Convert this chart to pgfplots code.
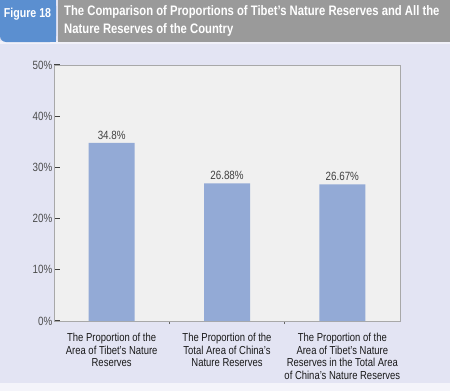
\documentclass[border=0pt]{standalone}
\usepackage{pgfplots}
\pgfplotsset{compat=1.18}
\usepackage{fontspec}
\setmainfont[FakeStretch=0.82]{Liberation Sans}
\definecolor{bgl}{HTML}{E3E4F3}
\definecolor{hblue}{HTML}{5B8FD0}
\definecolor{hgray}{HTML}{9A9A9A}
\definecolor{plotbg}{HTML}{F0F0F0}
\definecolor{barc}{HTML}{93AAD6}
\definecolor{axc}{HTML}{A8A8A8}
\begin{document}
\begin{tikzpicture}[x=1bp,y=1bp]
\fill[bgl] (0,0) rectangle (450,391);
\fill[white!60!bgl] (0,0) rectangle (450,8);
\fill[white!50!bgl] (0,347) rectangle (450,350);
\fill[hgray] (58,349) rectangle (450,391);
\fill[hblue,rounded corners=6bp] (0,349) rectangle (56,391);
\fill[hblue] (0,370) rectangle (56,391);
\fill[hblue] (20,349) rectangle (56,391);
\node[text=white,font=\bfseries\fontsize{13}{15}\selectfont] at (27.5,377) {Figure 18};
\node[text=white,font=\bfseries\fontsize{13.8}{18}\selectfont,anchor=north west,align=left,inner sep=0pt] at (64,386) {The Comparison of Proportions of Tibet’s Nature Reserves and All the\\Nature Reserves of the Country};
\begin{axis}[
  at={(54bp,70bp)}, anchor=south west,
  scale only axis, width=346bp, height=256bp,
  axis background/.style={fill=plotbg},
  axis line style={axc},
  ymin=0, ymax=50, xmin=-0.5, xmax=2.5,
  ytick={0,10,20,30,40,50},
  yticklabel={\pgfmathprintnumber{\tick}\%},
  /pgf/number format/assume math mode=true,
  yticklabel style={font=\fontsize{12}{13}\selectfont, text=black!70, inner sep=1.5bp},
  ytick style={draw=black!75, line width=1.2pt},
  tick align=inside, major tick length=6bp,
  xtick={0,1,2},
  xticklabels={The Proportion of the\\Area of Tibet’s Nature\\Reserves,The Proportion of the\\Total Area of China’s\\Nature Reserves,The Proportion of the\\Area of Tibet’s Nature\\Reserves in the Total Area\\of China’s Nature Reserves},
  xticklabel style={align=center, font=\fontsize{11.6}{12.7}\selectfont, text=black!90, anchor=north, yshift=-2.5bp},
  major x tick style={draw=none},
  minor xtick={0.5,1.5},
  minor x tick style={draw=black!60, line width=0.5pt},
  minor tick length=3bp,
  xtick pos=bottom, ytick pos=left,
  ybar, bar width=46bp,
  nodes near coords={\pgfmathprintnumber[fixed,precision=2]{\pgfplotspointmeta}\%},
  nodes near coords style={font=\fontsize{12}{13}\selectfont, text=black!75, /pgf/number format/assume math mode=true},
  clip=false,
]
\addplot[fill=barc, draw=none] coordinates {(0,34.8) (1,26.88) (2,26.67)};
\end{axis}
\end{tikzpicture}
\end{document}
